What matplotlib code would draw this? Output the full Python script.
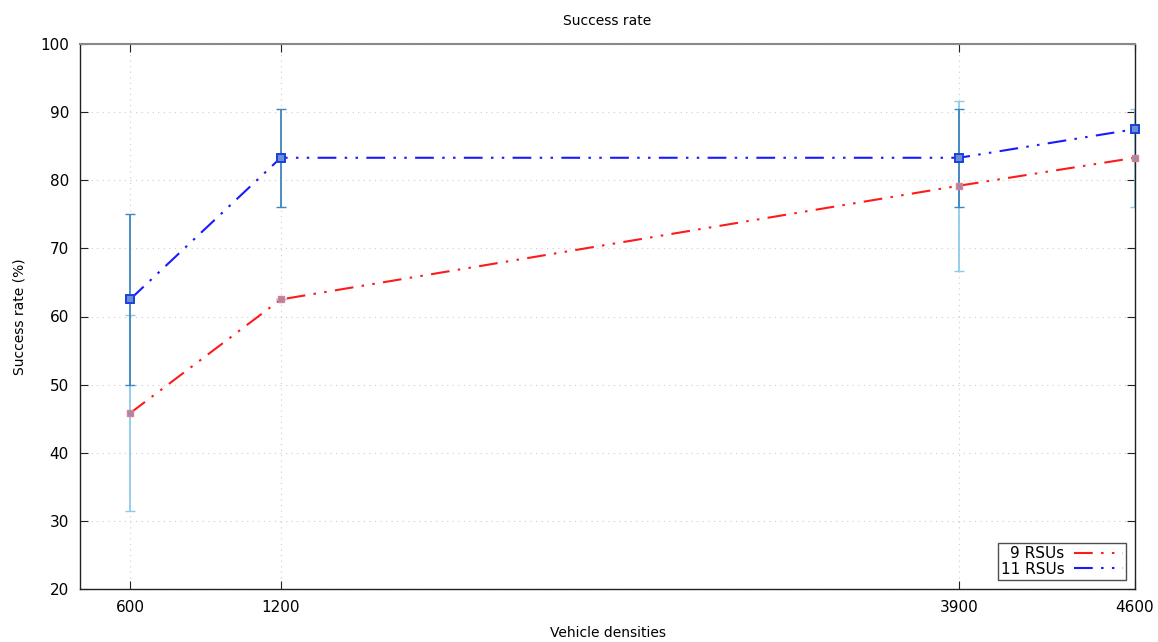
import matplotlib
matplotlib.use("Agg")
import matplotlib.pyplot as plt

# Data
densities = [600, 1200, 3900, 4600]

rate_9 = [45.8, 62.5, 79.2, 83.3]
err_9 = [14.4, 0.0, 12.5, 7.2]

rate_11 = [62.5, 83.3, 83.3, 87.5]
err_11 = [12.5, 7.2, 7.2, 0.0]

yticks = [20, 30, 40, 50, 60, 70, 80, 90, 100]

dash = (0, (9, 4, 1.2, 4, 1.2, 4))

fig = plt.figure(figsize=(11.58, 6.42), dpi=100)
ax = fig.add_axes([80 / 1158, 1 - 589 / 642, (1135 - 80) / 1158, (589 - 44) / 642])

# error bars first (light for 9, darker for 11 on top)
ax.errorbar(densities, rate_9, yerr=err_9, fmt="none", ecolor="#8ccbe8",
            elinewidth=1.3, capsize=3.5, capthick=1.0, zorder=2)
ax.errorbar(densities, rate_11, yerr=err_11, fmt="none", ecolor="#3d86c0",
            elinewidth=1.3, capsize=3.5, capthick=1.0, zorder=3)

# Lines
ax.plot(densities, rate_9, color="#ff1a1a", linestyle=dash, linewidth=1.5,
        label="9 RSUs", zorder=4)
ax.plot(densities, rate_11, color="#1a1aff", linestyle=dash, linewidth=1.5,
        label="11 RSUs", zorder=4)

# Markers
ax.plot(densities, rate_9, linestyle="none", marker="s", markersize=5,
        markerfacecolor="#9a8fa8", markeredgecolor="#e87a90", markeredgewidth=1.0,
        zorder=5, clip_on=False)
ax.plot(densities, rate_11, linestyle="none", marker="s", markersize=6,
        markerfacecolor="#6d8fd0", markeredgecolor="#1a3fe0", markeredgewidth=1.4,
        zorder=5, clip_on=False)

ax.set_xlim(401, 4600)
ax.set_ylim(20, 100)
ax.set_xticks(densities)
ax.set_yticks(yticks)
ax.tick_params(direction="in", top=True, right=True, length=6, labelsize=11,
               pad=8, color="#222222")
ax.grid(True, linestyle=(0, (1, 4)), color="#cccccc", linewidth=0.8)
ax.set_axisbelow(True)

for side in ["left", "bottom", "right"]:
    ax.spines[side].set_color("#222222")
    ax.spines[side].set_linewidth(1.0)
ax.spines["top"].set_color("#888888")
ax.spines["top"].set_linewidth(1.5)

ax.set_title("Success rate", fontsize=10, pad=14)
ax.set_xlabel("Vehicle densities", fontsize=10, labelpad=8)
ax.set_ylabel("Success rate (%)", fontsize=10, labelpad=10)

leg = ax.legend(loc="lower right", markerfirst=False, fontsize=11,
                frameon=True, fancybox=False, borderpad=0.2, labelspacing=0.05,
                handlelength=3.2, handletextpad=0.6, borderaxespad=0.6)
leg.get_frame().set_edgecolor("#222222")
leg.get_frame().set_linewidth(1.0)
for t in leg.get_texts():
    t.set_ha("right")

fig.savefig("out.png", dpi=100)
